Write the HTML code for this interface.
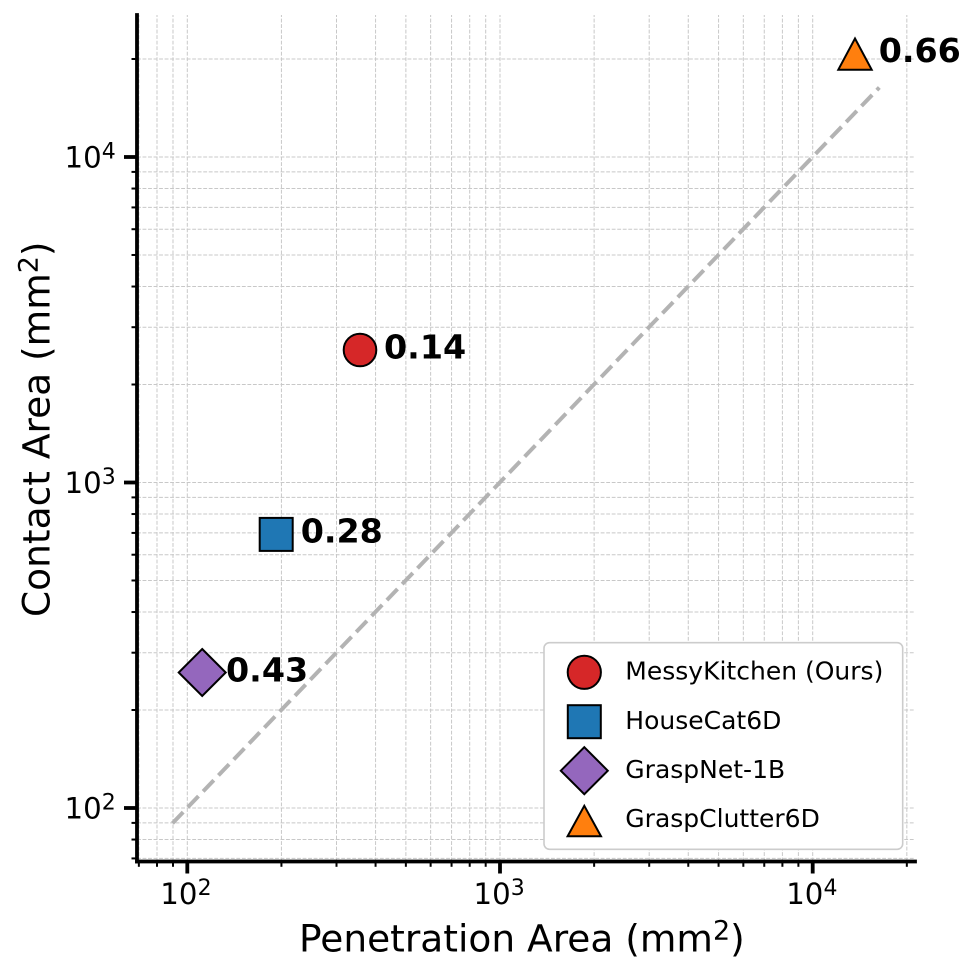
<!DOCTYPE html>
<html>
<head>
<meta charset="utf-8">
<style>
html,body{margin:0;padding:0;background:#ffffff;}
svg{display:block;}
</style>
</head>
<body>
<svg width="978" height="976" viewBox="0 0 978 976" xmlns="http://www.w3.org/2000/svg" font-family="'DejaVu Sans', 'Liberation Sans', sans-serif">
<rect x="0" y="0" width="978" height="976" fill="#ffffff"/>

<g stroke="#c8c8c8" stroke-width="1" stroke-dasharray="3.85 1.67" fill="none">
  <line x1="138.86" y1="861.5" x2="138.86" y2="15"/>
  <line x1="157.0" y1="861.5" x2="157.0" y2="15"/>
  <line x1="172.99" y1="861.5" x2="172.99" y2="15"/>
  <line x1="187.3" y1="861.5" x2="187.3" y2="15"/>
  <line x1="281.43" y1="861.5" x2="281.43" y2="15"/>
  <line x1="336.5" y1="861.5" x2="336.5" y2="15"/>
  <line x1="375.57" y1="861.5" x2="375.57" y2="15"/>
  <line x1="405.87" y1="861.5" x2="405.87" y2="15"/>
  <line x1="430.63" y1="861.5" x2="430.63" y2="15"/>
  <line x1="451.56" y1="861.5" x2="451.56" y2="15"/>
  <line x1="469.7" y1="861.5" x2="469.7" y2="15"/>
  <line x1="485.69" y1="861.5" x2="485.69" y2="15"/>
  <line x1="500.0" y1="861.5" x2="500.0" y2="15"/>
  <line x1="594.13" y1="861.5" x2="594.13" y2="15"/>
  <line x1="649.2" y1="861.5" x2="649.2" y2="15"/>
  <line x1="688.27" y1="861.5" x2="688.27" y2="15"/>
  <line x1="718.57" y1="861.5" x2="718.57" y2="15"/>
  <line x1="743.33" y1="861.5" x2="743.33" y2="15"/>
  <line x1="764.26" y1="861.5" x2="764.26" y2="15"/>
  <line x1="782.4" y1="861.5" x2="782.4" y2="15"/>
  <line x1="798.39" y1="861.5" x2="798.39" y2="15"/>
  <line x1="812.7" y1="861.5" x2="812.7" y2="15"/>
  <line x1="906.83" y1="861.5" x2="906.83" y2="15"/>
  <line x1="137" y1="858.42" x2="915" y2="858.42"/>
  <line x1="137" y1="839.54" x2="915" y2="839.54"/>
  <line x1="137" y1="822.89" x2="915" y2="822.89"/>
  <line x1="137" y1="808" x2="915" y2="808"/>
  <line x1="137" y1="710.01" x2="915" y2="710.01"/>
  <line x1="137" y1="652.7" x2="915" y2="652.7"/>
  <line x1="137" y1="612.03" x2="915" y2="612.03"/>
  <line x1="137" y1="580.48" x2="915" y2="580.48"/>
  <line x1="137" y1="554.71" x2="915" y2="554.71"/>
  <line x1="137" y1="532.92" x2="915" y2="532.92"/>
  <line x1="137" y1="514.04" x2="915" y2="514.04"/>
  <line x1="137" y1="497.4" x2="915" y2="497.4"/>
  <line x1="137" y1="482.5" x2="915" y2="482.5"/>
  <line x1="137" y1="384.51" x2="915" y2="384.51"/>
  <line x1="137" y1="327.2" x2="915" y2="327.2"/>
  <line x1="137" y1="286.53" x2="915" y2="286.53"/>
  <line x1="137" y1="254.98" x2="915" y2="254.98"/>
  <line x1="137" y1="229.21" x2="915" y2="229.21"/>
  <line x1="137" y1="207.42" x2="915" y2="207.42"/>
  <line x1="137" y1="188.54" x2="915" y2="188.54"/>
  <line x1="137" y1="171.9" x2="915" y2="171.9"/>
  <line x1="137" y1="157" x2="915" y2="157"/>
  <line x1="137" y1="59.01" x2="915" y2="59.01"/>
</g>

<line x1="172.5" y1="823.2" x2="879.3" y2="87.5" stroke="#b3b3b3" stroke-width="4" stroke-dasharray="15.4 6.7" fill="none"/>

<g stroke="#000000" stroke-width="2" stroke-linejoin="miter">
  <circle cx="360" cy="350" r="16.3" fill="#d62728"/>
  <rect x="259.7" y="517.9" width="33" height="33" fill="#1f77b4"/>
  <path d="M202.2 649 L225.7 672.5 L202.2 696 L178.7 672.5 Z" fill="#9467bd"/>
  <path d="M855 38.5 L871.7 69.7 L838.3 69.7 Z" fill="#ff7f0e"/>
</g>

<g font-weight="bold" font-size="33.3" fill="#000000">
  <text x="384" y="358.5">0.14</text>
  <text x="300.7" y="542.5">0.28</text>
  <text x="226" y="681.5">0.43</text>
  <text x="878.7" y="62">0.66</text>
</g>

<g stroke="#000000" stroke-width="2">
  <line x1="138.86" y1="861.5" x2="138.86" y2="866.8"/>
  <line x1="157.0" y1="861.5" x2="157.0" y2="866.8"/>
  <line x1="172.99" y1="861.5" x2="172.99" y2="866.8"/>
  <line x1="281.43" y1="861.5" x2="281.43" y2="866.8"/>
  <line x1="336.5" y1="861.5" x2="336.5" y2="866.8"/>
  <line x1="375.57" y1="861.5" x2="375.57" y2="866.8"/>
  <line x1="405.87" y1="861.5" x2="405.87" y2="866.8"/>
  <line x1="430.63" y1="861.5" x2="430.63" y2="866.8"/>
  <line x1="451.56" y1="861.5" x2="451.56" y2="866.8"/>
  <line x1="469.7" y1="861.5" x2="469.7" y2="866.8"/>
  <line x1="485.69" y1="861.5" x2="485.69" y2="866.8"/>
  <line x1="594.13" y1="861.5" x2="594.13" y2="866.8"/>
  <line x1="649.2" y1="861.5" x2="649.2" y2="866.8"/>
  <line x1="688.27" y1="861.5" x2="688.27" y2="866.8"/>
  <line x1="718.57" y1="861.5" x2="718.57" y2="866.8"/>
  <line x1="743.33" y1="861.5" x2="743.33" y2="866.8"/>
  <line x1="764.26" y1="861.5" x2="764.26" y2="866.8"/>
  <line x1="782.4" y1="861.5" x2="782.4" y2="866.8"/>
  <line x1="798.39" y1="861.5" x2="798.39" y2="866.8"/>
  <line x1="906.83" y1="861.5" x2="906.83" y2="866.8"/>
  <line x1="131.5" y1="858.42" x2="137" y2="858.42"/>
  <line x1="131.5" y1="839.54" x2="137" y2="839.54"/>
  <line x1="131.5" y1="822.89" x2="137" y2="822.89"/>
  <line x1="131.5" y1="710.01" x2="137" y2="710.01"/>
  <line x1="131.5" y1="652.7" x2="137" y2="652.7"/>
  <line x1="131.5" y1="612.03" x2="137" y2="612.03"/>
  <line x1="131.5" y1="580.48" x2="137" y2="580.48"/>
  <line x1="131.5" y1="554.71" x2="137" y2="554.71"/>
  <line x1="131.5" y1="532.92" x2="137" y2="532.92"/>
  <line x1="131.5" y1="514.04" x2="137" y2="514.04"/>
  <line x1="131.5" y1="497.4" x2="137" y2="497.4"/>
  <line x1="131.5" y1="384.51" x2="137" y2="384.51"/>
  <line x1="131.5" y1="327.2" x2="137" y2="327.2"/>
  <line x1="131.5" y1="286.53" x2="137" y2="286.53"/>
  <line x1="131.5" y1="254.98" x2="137" y2="254.98"/>
  <line x1="131.5" y1="229.21" x2="137" y2="229.21"/>
  <line x1="131.5" y1="207.42" x2="137" y2="207.42"/>
  <line x1="131.5" y1="188.54" x2="137" y2="188.54"/>
  <line x1="131.5" y1="171.9" x2="137" y2="171.9"/>
  <line x1="131.5" y1="59.01" x2="137" y2="59.01"/>
</g>
<g stroke="#000000" stroke-width="3.8">
  <line x1="187.3" y1="861.5" x2="187.3" y2="873.5"/>
  <line x1="500" y1="861.5" x2="500" y2="873.5"/>
  <line x1="812.7" y1="861.5" x2="812.7" y2="873.5"/>
  <line x1="124" y1="808" x2="137" y2="808"/>
  <line x1="124" y1="482.5" x2="137" y2="482.5"/>
  <line x1="124" y1="157" x2="137" y2="157"/>
</g>

<line x1="137" y1="13.1" x2="137" y2="863.4" stroke="#000000" stroke-width="3.8"/>
<line x1="135.1" y1="861.5" x2="916.9" y2="861.5" stroke="#000000" stroke-width="3.8"/>

<g fill="#000000">
  <text x="160.3" y="904" font-size="29.2">10</text>
  <text x="197.6" y="895" font-size="22">2</text>
  <text x="473.5" y="904" font-size="29.2">10</text>
  <text x="510.8" y="895" font-size="22">3</text>
  <text x="786.2" y="904" font-size="29.2">10</text>
  <text x="823.5" y="895" font-size="22">4</text>
  <text x="64.5" y="818.7" font-size="29.2">10</text>
  <text x="101.8" y="809.7" font-size="22">2</text>
  <text x="64.5" y="493.2" font-size="29.2">10</text>
  <text x="101.8" y="484.2" font-size="22">3</text>
  <text x="64.5" y="167.7" font-size="29.2">10</text>
  <text x="101.8" y="158.7" font-size="22">4</text>
</g>

<text x="299" y="951.7" font-size="37.5" fill="#000000">Penetration Area (mm<tspan font-size="27" dy="-12">2</tspan><tspan dy="12">)</tspan></text>
<text transform="translate(49.5,617) rotate(-90)" x="0" y="0" font-size="37.5" fill="#000000">Contact Area (mm<tspan font-size="27" dy="-12">2</tspan><tspan dy="12">)</tspan></text>

<rect x="544" y="642.7" width="358.7" height="206.6" rx="5.5" ry="5.5" fill="#ffffff" stroke="#cccccc" stroke-width="1.6"/>
<g stroke="#000000" stroke-width="2" stroke-linejoin="miter">
  <circle cx="584.3" cy="672.3" r="16.6" fill="#d62728"/>
  <rect x="567.8" y="705.2" width="33" height="33" fill="#1f77b4"/>
  <path d="M584.3 747.2 L607.8 770.7 L584.3 794.2 L560.8 770.7 Z" fill="#9467bd"/>
  <path d="M584.3 805.8 L601 836.3 L567.6 836.3 Z" fill="#ff7f0e"/>
</g>
<g fill="#000000" font-size="25">
  <text x="625.3" y="679.5">MessyKitchen (Ours)</text>
  <text x="625.3" y="728.8">HouseCat6D</text>
  <text x="625.3" y="777.9">GraspNet-1B</text>
  <text x="625.3" y="827.2">GraspClutter6D</text>
</g>
</svg>
</body>
</html>
